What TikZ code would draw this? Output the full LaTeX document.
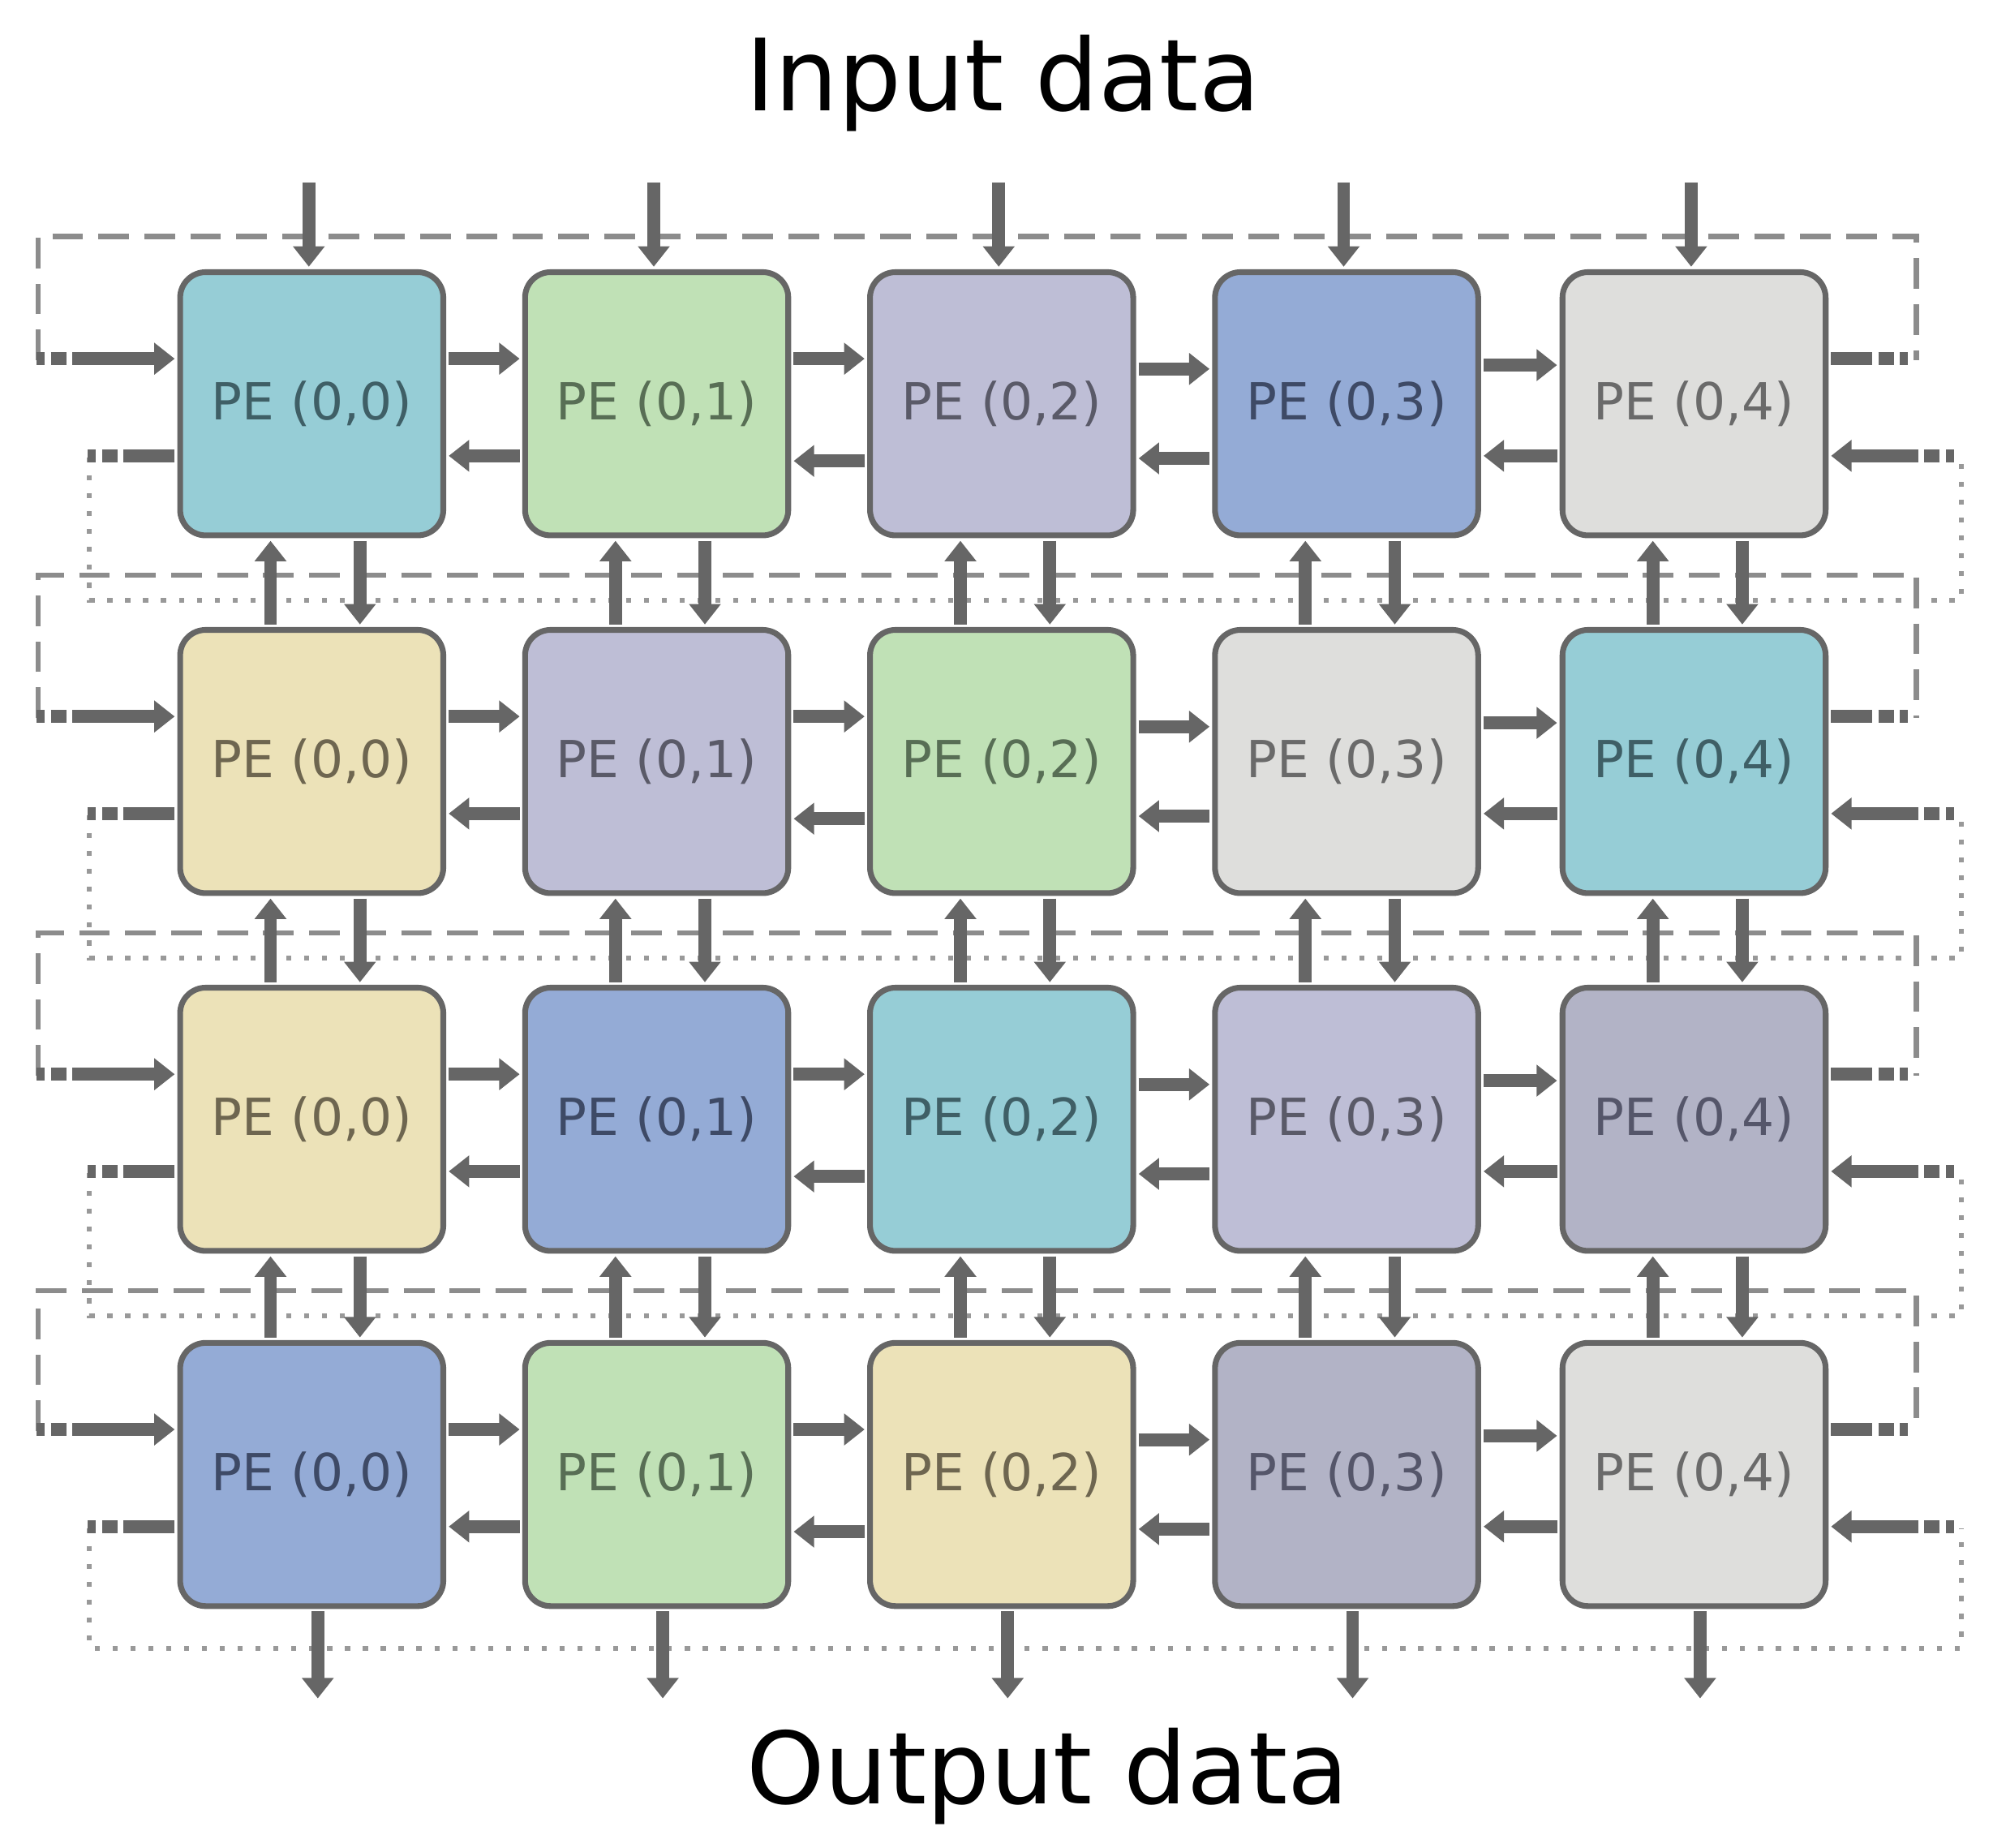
\documentclass[tikz,border=0pt]{standalone}
\usepackage{fontspec}
\setmainfont{DejaVu Sans}
\usetikzlibrary{arrows.meta,calc}
\definecolor{cT}{HTML}{96CDD6}\definecolor{tT}{HTML}{3F5F66}
\definecolor{cG}{HTML}{C0E1B6}\definecolor{tG}{HTML}{586E55}
\definecolor{cL}{HTML}{BEBED6}\definecolor{tL}{HTML}{5A5A68}
\definecolor{cB}{HTML}{94ABD6}\definecolor{tB}{HTML}{3E4A66}
\definecolor{cW}{HTML}{DEDEDC}\definecolor{tW}{HTML}{6A6A6A}
\definecolor{cY}{HTML}{ECE2B8}\definecolor{tY}{HTML}{6E6650}
\definecolor{cS}{HTML}{B2B3C6}\definecolor{tS}{HTML}{55566A}
\definecolor{ln}{HTML}{666666}
\tikzset{
 pe/.style={draw=ln,line width=4.5pt,rounded corners=20pt,minimum size=206pt,inner sep=0pt,font=\fontsize{40}{40}\selectfont},
 arr/.style={draw=ln,line width=10pt,-{Triangle[length=16pt,width=24pt]}},
 stub/.style={draw=ln,line width=10pt},
 dl/.style={draw=black!45,line width=4pt,dash pattern=on 24pt off 12pt},
 dt/.style={draw=black!40,line width=4pt,dash pattern=on 4pt off 10pt},
}
\begin{document}
\begin{tikzpicture}[x=1pt,y=-1pt]
\useasboundingbox (0,0) rectangle (1560,1446);
\node[font=\fontsize{78}{78}\selectfont] (tin) at (785,65) {Input data};
\node[font=\fontsize{78}{78}\selectfont] (tout) at (820,1390) {Output data};
\foreach \r/\ty/\up/\dn in {0/212/27/258,1/492/42/258,2/772/42/258,3/1050/40/240}{
 \draw[dl] (30,\ty+70) -- (30,\ty-\up) -- (1500,\ty-\up) -- (1500,\ty+70);
 \draw[dt] (70,\ty+146) -- (70,\ty+\dn) -- (1535,\ty+\dn) -- (1535,\ty+146);
}
\foreach \r/\c/\col in {0/0/T,0/1/G,0/2/L,0/3/B,0/4/W,
 1/0/Y,1/1/L,1/2/G,1/3/W,1/4/T,
 2/0/Y,2/1/B,2/2/T,2/3/L,2/4/S,
 3/0/B,3/1/G,3/2/Y,3/3/S,3/4/W}{
 \pgfmathsetmacro{\lx}{{140,410,680,950,1222}[\c]}
 \pgfmathsetmacro{\ty}{{212,492,772,1050}[\r]}
 \node[pe,fill=c\col,text=t\col] (b\r\c) at (\lx+104,\ty+104) {PE (0,\c)};
}
\foreach \r in {0,1,2,3}{
 \foreach \c/\d/\o/\p in {0/1/70/146,1/2/70/150,2/3/78/148,3/4/75/146}{
  \draw[arr] ($(b\r\c.north east)+(2,\o)$) -- ($(b\r\d.north west)+(-2,\o)$);
  \draw[arr] ($(b\r\d.north west)+(-2,\p)$) -- ($(b\r\c.north east)+(2,\p)$);
 }
 \draw[arr,dash pattern=on 6pt off 5pt on 12pt off 5pt on 300pt] ($(b\r0.north west)+(-110,70)$) -- ($(b\r0.north west)+(-2,70)$);
 \draw[stub,dash pattern=on 32pt off 5pt on 12pt off 5pt on 6pt off 50pt] ($(b\r4.north east)+(2,70)$) -- ($(b\r4.north east)+(70,70)$);
 \draw[stub,dash pattern=on 40pt off 5pt on 12pt off 5pt on 6pt off 50pt] ($(b\r0.north west)+(-2,146)$) -- ($(b\r0.north west)+(-72,146)$);
 \draw[arr,dash pattern=on 6pt off 5pt on 12pt off 5pt on 300pt] ($(b\r4.north east)+(98,146)$) -- ($(b\r4.north east)+(2,146)$);
}
\foreach \r/\s in {0/1,1/2,2/3}{
 \foreach \c in {0,...,4}{
  \draw[arr] ($(b\r\c.south west)+(143,2)$) -- ($(b\s\c.north west)+(143,-2)$);
  \draw[arr] ($(b\s\c.north west)+(73,-2)$) -- ($(b\r\c.south west)+(73,2)$);
 }
}
\foreach \c in {0,...,4}{
 \draw[arr] ($(b0\c.north west)+(103,-68)$) -- ($(b0\c.north west)+(103,-2)$);
 \draw[arr] ($(b3\c.south west)+(110,2)$) -- ($(b3\c.south west)+(110,70)$);
}
\end{tikzpicture}
\end{document}
